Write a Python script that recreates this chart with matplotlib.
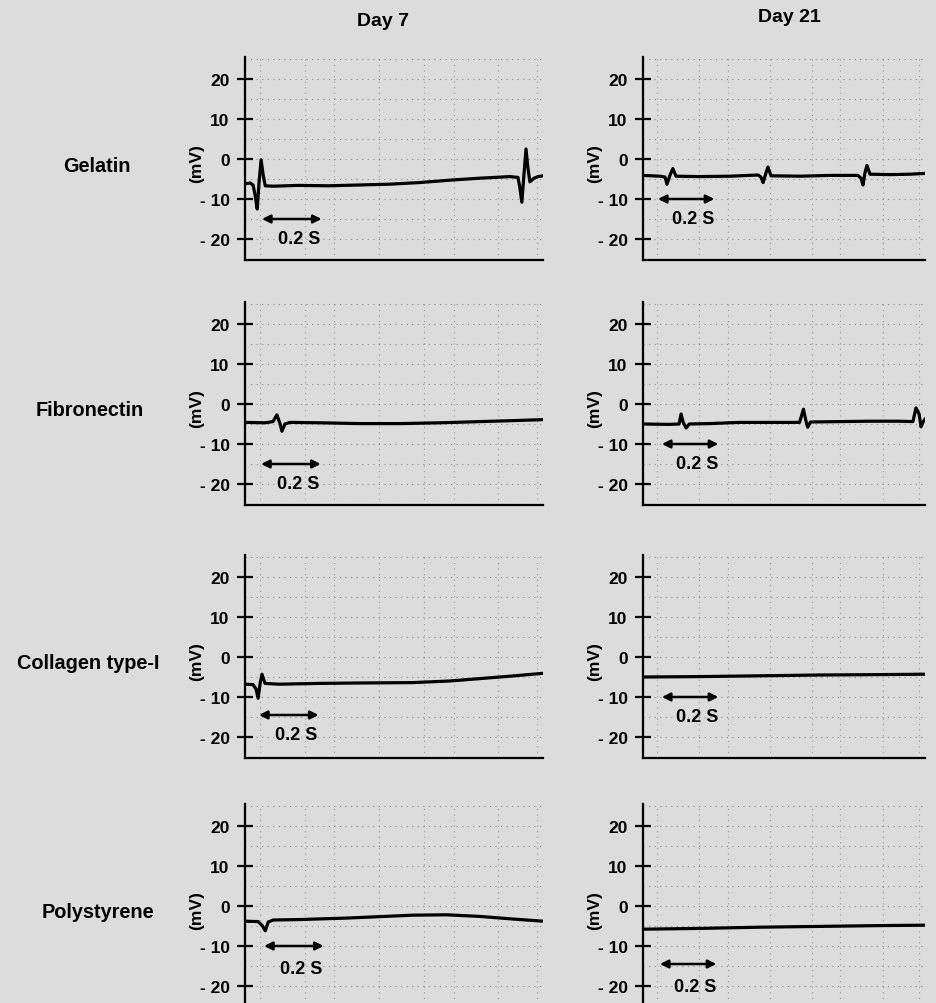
import matplotlib
matplotlib.use("Agg")
import matplotlib.pyplot as plt

plt.rcParams['font.family'] = ['Liberation Sans', 'DejaVu Sans']
plt.rcParams['font.weight'] = 'bold'

# ---- data (time in s, potential in mV) ----
substrates = ['Gelatin', 'Fibronectin', 'Collagen type-I', 'Polystyrene']
days = ['Day 7', 'Day 21']
yticks = [-20, -10, 0, 10, 20]
ytick_labels = ['- 20', '- 10', '0', '10', '20']

t_gel7 = [0, .017, .027, .034, .041, .047, .054, .061, .068, .095, .179, .280, .382, .483,
          .584, .686, .787, .889, .916, .922, .929, .936, .943, .949, .956, .970, .983, 1.0]
v_gel7 = [-6.2, -6.0, -6.5, -9, -12.5, -6, -0.2, -4, -6.7, -6.8, -6.6, -6.7, -6.5, -6.3,
          -5.9, -5.3, -4.8, -4.4, -4.6, -7, -10.8, -4, 2.5, -2, -5.7, -4.8, -4.4, -4.2]

t_gel21 = [0, .060, .078, .085, .096, .106, .117, .202, .309, .408, .418, .426, .436, .443,
           .454, .557, .663, .762, .773, .780, .787, .794, .805, .876, .947, 1.0]
v_gel21 = [-4.1, -4.3, -4.5, -6.3, -4, -2.4, -4.3, -4.4, -4.3, -4.0, -4.5, -5.9, -3.5, -2.0,
           -4.2, -4.3, -4.1, -4.1, -4.8, -6.5, -3.5, -1.6, -3.8, -3.9, -3.8, -3.6]

t_fib7 = [0, .067, .094, .101, .107, .117, .124, .134, .151, .252, .386, .520, .654, .789, .923, 1.0]
v_fib7 = [-4.6, -4.7, -4.4, -3.5, -2.7, -4.8, -6.8, -5.0, -4.6, -4.7, -4.9, -4.9, -4.7, -4.4, -4.1, -3.9]

t_fib21 = [0, .093, .128, .135, .142, .153, .164, .235, .342, .448, .555, .562, .569, .577, .584,
           .594, .698, .804, .911, .957, .968, .979, .986, .993, 1.0]
v_fib21 = [-5, -5.1, -5, -2.5, -4.5, -6, -5, -4.9, -4.6, -4.6, -4.6, -3, -1.3, -4, -5.8,
           -4.5, -4.4, -4.3, -4.3, -4.4, -1, -2.5, -5.7, -4.5, -3.8]

t_col7 = [0, .027, .037, .044, .051, .057, .067, .114, .249, .384, .562, .687, .788, .889, .997]
v_col7 = [-6.8, -6.9, -8, -10.3, -6.5, -4.3, -6.6, -6.8, -6.6, -6.5, -6.4, -6.0, -5.4, -4.8, -4.1]

t_col21 = [0, .202, .415, .628, .840, 1.0]
v_col21 = [-5.0, -4.9, -4.7, -4.5, -4.4, -4.3]

t_pol7 = [0, .044, .057, .068, .078, .095, .179, .348, .561, .676, .787, .889, 1.0]
v_pol7 = [-3.8, -3.9, -4.8, -6.2, -4.0, -3.5, -3.4, -3.0, -2.3, -2.2, -2.6, -3.2, -3.8]

t_pol21 = [0, .202, .415, .628, .840, 1.0]
v_pol21 = [-5.8, -5.6, -5.3, -5.1, -4.9, -4.8]

traces = [[(t_gel7, v_gel7), (t_gel21, v_gel21)],
          [(t_fib7, v_fib7), (t_fib21, v_fib21)],
          [(t_col7, v_col7), (t_col21, v_col21)],
          [(t_pol7, v_pol7), (t_pol21, v_pol21)]]

# 0.2 s scale bars: start time, arrow level, label level
bar_start = [[0.057, 0.053], [0.054, 0.067], [0.047, 0.067], [0.064, 0.060]]
bar_level = [[-15, -10], [-15, -10], [-14.5, -10], [-10, -14.5]]
bar_text_level = [[-20, -15], [-20, -15], [-19.5, -15], [-15.5, -20]]

# ---- layout (pixels of the 936x1004 reference) ----
W, H = 936, 1004
bg = '#dcdcdc'
fig = plt.figure(figsize=(W / 100, H / 100), dpi=100, facecolor=bg)

col_left = [245, 643]
col_width = [298, 282]
row_zero = [160, 405, 658, 907]
px_per_mv = 4.0
ylim = (-25.3, 25.5)
label_x = [97, 90, 88, 98]

for r in range(4):
    top = row_zero[r] - ylim[1] * px_per_mv
    height = (ylim[1] - ylim[0]) * px_per_mv
    for c in range(2):
        ax = fig.add_axes([col_left[c] / W, 1 - (top + height) / H,
                           col_width[c] / W, height / H])
        ax.set_facecolor(bg)
        ax.set_xlim(0, 1)
        ax.set_ylim(*ylim)
        for s in ['top', 'right']:
            ax.spines[s].set_visible(False)
        for s in ['left', 'bottom']:
            ax.spines[s].set_linewidth(1.6)
        ax.set_xticks([])
        ax.set_yticks(yticks)
        ax.set_yticklabels(ytick_labels, fontsize=12.5, fontweight='bold')
        ax.tick_params(axis='y', direction='inout', length=12, width=1.6, pad=5)

        # dotted chart-paper grid
        for g in range(-25, 26, 5):
            ax.axhline(g, color='#555555', lw=0.8, ls=(0, (1, 4)), alpha=0.6, zorder=1)
        for g in [0.05, 0.2, 0.3, 0.45, 0.6, 0.7, 0.85, 0.98]:
            ax.axvline(g, color='#555555', lw=0.8, ls=(0, (1, 4)), alpha=0.5, zorder=1)

        t, v = traces[r][c]
        ax.plot(t, v, color='black', lw=2.3, zorder=3, solid_joinstyle='round')

        x0 = bar_start[r][c]
        ax.annotate('', xy=(x0 + 0.2, bar_level[r][c]), xytext=(x0, bar_level[r][c]),
                    arrowprops=dict(arrowstyle='<|-|>', color='black', lw=1.8,
                                    mutation_scale=12, shrinkA=0, shrinkB=0), zorder=4)
        ax.text(x0 + 0.125, bar_text_level[r][c], '0.2 S', fontsize=13, fontweight='bold',
                ha='center', va='center', zorder=4)

        # "(mV)" sits about 48 px left of the y axis
        ax.text(-48 / col_width[c], -1, '(mV)', transform=ax.get_yaxis_transform(),
                rotation=90, fontsize=12.5, fontweight='bold', ha='center', va='center')

    fig.text(label_x[r] / W, 1 - (row_zero[r] + 6) / H, substrates[r], fontsize=14.3,
             fontweight='bold', ha='center', va='center')

fig.text(383 / W, 1 - 22 / H, days[0], fontsize=14, fontweight='bold', ha='center', va='center')
fig.text(789 / W, 1 - 18 / H, days[1], fontsize=14, fontweight='bold', ha='center', va='center')

fig.savefig('out.png', dpi=100, facecolor=bg)
